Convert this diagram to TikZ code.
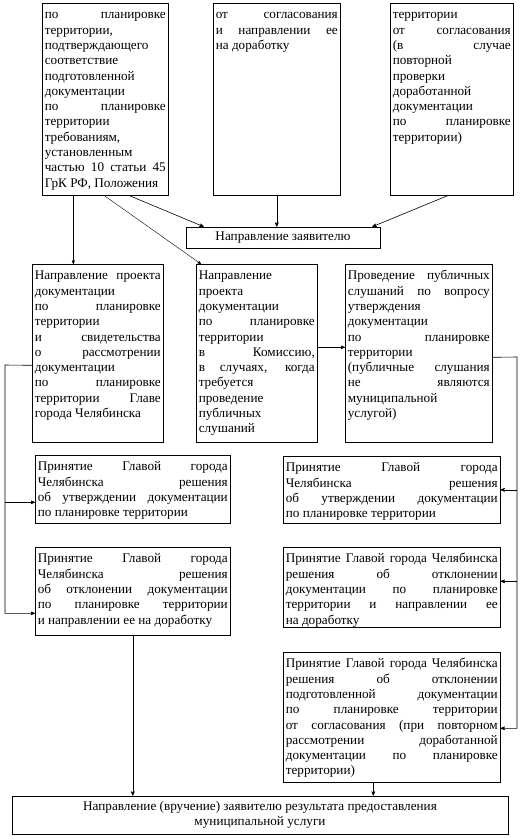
\documentclass[tikz,border=0pt]{standalone}
\usepackage{fontspec}
\setmainfont{Liberation Serif}
\usetikzlibrary{arrows}
\tolerance=10000
\hbadness=10000
\hyphenpenalty=10000
\exhyphenpenalty=10000
\tikzset{x=1pt, y=-1pt, % Coordinates follow the pixel grid of the scheme
        box/.style={ % Sets the properties for each block with justified text
            draw,
            line width=0.6pt,
            anchor=north west,
            align=justify,
            inner xsep=2.5pt,
            inner ysep=4pt,
            text height=11.5pt,
            font=\fontsize{13.2}{15.3}\selectfont},
        mid/.style={ % Blocks with centred text
            draw,
            line width=0.6pt,
            align=center,
            inner sep=2pt,
            font=\fontsize{13.2}{15.3}\selectfont},
        every edge/.style={ % Sets the properties for each straight link
            draw,
            ->,>=stealth', % Small filled arrow heads
            semithick}
        }

\begin{document}
\begin{tikzpicture}
    \useasboundingbox (0,0) rectangle (530,839);

    % first row
    \node[box, text width=121pt, text depth=172.5pt] (ok) at (42,3) {по планировке\linebreak территории,\linebreak подтверждающего\linebreak соответствие\linebreak подготовленной\linebreak документации\linebreak по планировке\linebreak территории\linebreak требованиям,\linebreak установленным\linebreak частью 10 статьи 45\linebreak ГрК РФ, Положения};
    \node[box, text width=122pt, text depth=172.5pt] (rej) at (213,3) {от согласования\linebreak и направлении ее\linebreak на доработку};
    \node[box, text width=118pt, text depth=172.5pt] (rej2) at (390,3) {территории\linebreak от согласования\linebreak (в случае\linebreak повторной\linebreak проверки\linebreak доработанной\linebreak документации\linebreak по планировке\linebreak территории)};

    \node[mid, minimum width=194pt, minimum height=21pt] (appl) at (283,237.5) {Направление заявителю};

    % second row
    \node[box, text width=126pt, text depth=158.5pt] (head) at (32,264) {Направление проекта\linebreak документации\linebreak по планировке\linebreak территории\linebreak и свидетельства\linebreak о рассмотрении\linebreak документации\linebreak по планировке\linebreak территории Главе\linebreak города Челябинска};
    \node[box, text width=116pt, text depth=158.5pt] (comm) at (196,264) {Направление\linebreak проекта\linebreak документации\linebreak по планировке\linebreak территории\linebreak в Комиссию,\linebreak в случаях, когда\linebreak требуется\linebreak проведение\linebreak публичных\linebreak слушаний};
    \node[box, text width=142pt, text depth=158.5pt] (hear) at (345,264) {Проведение публичных\linebreak слушаний по вопросу\linebreak утверждения\linebreak документации\linebreak по планировке\linebreak территории\linebreak (публичные слушания\linebreak не являются\linebreak муниципальной\linebreak услугой)};

    % decisions
    \node[box, text width=190pt, text depth=48.5pt] (yes1) at (35,455) {Принятие Главой города\linebreak Челябинска решения\linebreak об утверждении документации\linebreak по планировке территории};
    \node[box, text width=190pt, text depth=68.5pt] (no1) at (35,547) {Принятие Главой города\linebreak Челябинска решения\linebreak об отклонении документации\linebreak по планировке территории\linebreak и направлении ее на доработку};
    \node[box, text width=212pt, text depth=47.5pt] (yes2) at (283,456) {Принятие Главой города\linebreak Челябинска решения\linebreak об утверждении документации\linebreak по планировке территории};
    \node[box, text width=212pt, text depth=60.5pt] (no2) at (283,547) {Принятие Главой города Челябинска\linebreak решения об отклонении\linebreak документации по планировке\linebreak территории и направлении ее\linebreak на доработку};
    \node[box, text width=212pt, text depth=110.5pt] (no3) at (283,652) {Принятие Главой города Челябинска\linebreak решения об отклонении\linebreak подготовленной документации\linebreak по планировке территории\linebreak от согласования (при повторном\linebreak рассмотрении доработанной\linebreak документации по планировке\linebreak территории)};

    \node[mid, minimum width=496pt, minimum height=38pt] (result) at (260,815) {Направление (вручение) заявителю результата предоставления\\ муниципальной услуги};

    % link ends
    \coordinate (okl) at ([xshift=-32pt]ok.south);
    \coordinate (okm) at ([xshift=-1pt]ok.south);
    \coordinate (okr) at ([xshift=24pt]ok.south);
    \coordinate (rej2l) at ([xshift=-4pt]rej2.south);
    \coordinate (comme) at ([yshift=6pt]comm.east);
    \coordinate (lbus) at (5,365);
    \coordinate (rbus) at (517,357);
    \coordinate (yes1w) at ([yshift=-13pt]yes1.west);
    \coordinate (no2e) at ([yshift=6pt]no2.east);
    \coordinate (no3s) at ([xshift=-18.5pt]no3.south);

    \draw
        (okr)
            edge ([xshift=18pt]appl.north west)
        (rej.south)
            edge (rej.south |- appl.north)
        (rej2l)
            edge ([xshift=-8pt]appl.north east)
        (comme)
            edge (comme -| hear.west)
        (no1.south)
            edge (no1.south |- result.north)
        (no3s)
            edge (no3s |- result.north);
    \draw
        (okl)
            edge [thin] (okl |- head.north)
        (okm)
            edge [thin] ([xshift=5pt]comm.north west);

    % left branch
    \draw[->, >=stealth', semithick] ([yshift=-12pt]head.west) -- (lbus) |- ([yshift=-22pt]no1.west);
    \draw[->, >=stealth', semithick] (lbus |- yes1w) -- (yes1w);

    % right branch
    \draw[->, >=stealth', semithick] ([yshift=-4pt]hear.east) -- (rbus) |- ([yshift=-11pt]no3.east);
    \draw[->, >=stealth', semithick] (rbus |- yes2.east) -- (yes2.east);
    \draw[->, >=stealth', semithick] (rbus |- no2e) -- (no2e);
\end{tikzpicture}
\end{document}
